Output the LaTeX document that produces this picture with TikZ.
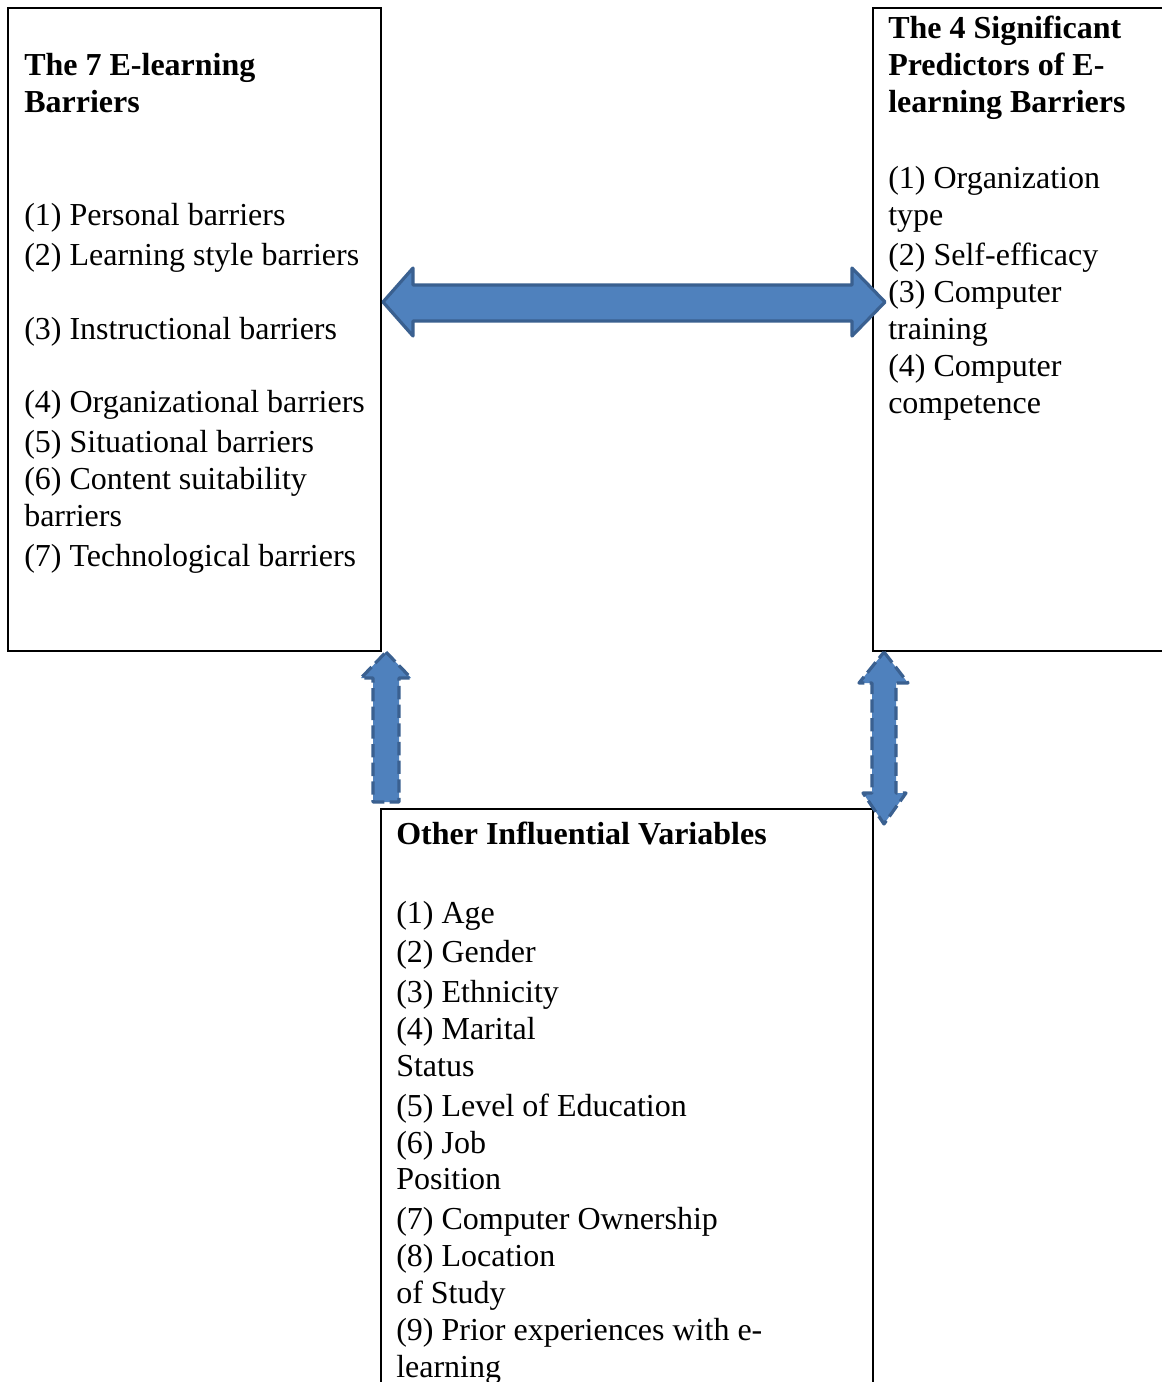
\documentclass[tikz,border=0pt]{standalone}
\usepackage{fontspec}
\setmainfont{Liberation Serif}
\definecolor{arrfill}{HTML}{4F81BD}
\definecolor{arrline}{HTML}{3A6090}
\begin{document}
\begin{tikzpicture}[x=0.75pt,y=-0.75pt,
  txt/.style={anchor=base west,inner sep=0pt,yshift=-1.2pt,font=\fontsize{24}{28}\selectfont},
  hd/.style={txt,font=\fontsize{24}{28}\selectfont\bfseries},
  boxline/.style={draw=black,line width=1.5pt},
  bigarrow/.style={fill=arrfill,draw=arrline,line width=2.4pt,line join=round},
  dasharrow/.style={fill=arrfill,draw=arrline,line width=2.4pt,line join=round,dash pattern=on 10pt off 4pt}]
\useasboundingbox (0,0) rectangle (1162,1382);
\fill[white] (0,0) rectangle (1162,1382);
% boxes
\draw[boxline] (8,8) rectangle (381,651);
\draw[boxline] (1175,651) -- (873,651) -- (873,8) -- (1175,8);
\draw[boxline] (381,1395) -- (381,809) -- (873,809) -- (873,1395);
% left box text
\node[hd] (l0) at (24,74) {The 7 E-learning};
\node[hd] (l0b) at (24,111) {Barriers};
\node[txt] (l1) at (24,224) {(1) Personal barriers};
\node[txt] (l2) at (24,264) {(2) Learning style barriers};
\node[txt] (l3) at (24,338) {(3) Instructional barriers};
\node[txt] (l4) at (24,411) {(4) Organizational barriers};
\node[txt] (l5) at (24,451) {(5) Situational barriers};
\node[txt] (l6) at (24,488) {(6) Content suitability};
\node[txt] (l6b) at (24,525) {barriers};
\node[txt] (l7) at (24,565) {(7) Technological barriers};
% right box text
\node[hd] (r0) at (888,37) {The 4 Significant};
\node[hd] (r0b) at (888,74) {Predictors of E-};
\node[hd] (r0c) at (888,111) {learning Barriers};
\node[txt] (r1) at (888,187) {(1) Organization};
\node[txt] (r1b) at (888,224) {type};
\node[txt] (r2) at (888,264) {(2) Self-efficacy};
\node[txt] (r3) at (888,301) {(3) Computer};
\node[txt] (r3b) at (888,338) {training};
\node[txt] (r4) at (888,375) {(4) Computer};
\node[txt] (r4b) at (888,412) {competence};
% bottom box text
\node[hd] (b0) at (396,843) {Other Influential Variables};
\node[txt] (b1) at (396,922) {(1) Age};
\node[txt] (b2) at (396,961) {(2) Gender};
\node[txt] (b3) at (396,1001) {(3) Ethnicity};
\node[txt] (b4) at (396,1038) {(4) Marital};
\node[txt] (b4b) at (396,1075) {Status};
\node[txt] (b5) at (396,1115) {(5) Level of Education};
\node[txt] (b6) at (396,1152) {(6) Job};
\node[txt] (b6b) at (396,1188) {Position};
\node[txt] (b7) at (396,1228) {(7) Computer Ownership};
\node[txt] (b8) at (396,1265) {(8) Location};
\node[txt] (b8b) at (396,1302) {of Study};
\node[txt] (b9) at (396,1339) {(9) Prior experiences with e-};
\node[txt] (b9b) at (396,1376) {learning};
% horizontal double arrow
\draw[bigarrow] (383,302) -- (413,268) -- (413,285) -- (852,285) -- (852,268)
  -- (885,302) -- (852,336) -- (852,321) -- (413,321) -- (413,336) -- cycle;
% left vertical arrow (up)
\draw[dasharrow] (386,652) -- (411,678) -- (399,678) -- (399,802) -- (373,802)
  -- (373,678) -- (361,678) -- cycle;
% right vertical double arrow
\draw[dasharrow] (884,652) -- (908,683) -- (896,683) -- (896,793) -- (906,793)
  -- (884,824) -- (863,793) -- (872,793) -- (872,683) -- (859,683) -- cycle;
\end{tikzpicture}
\end{document}
